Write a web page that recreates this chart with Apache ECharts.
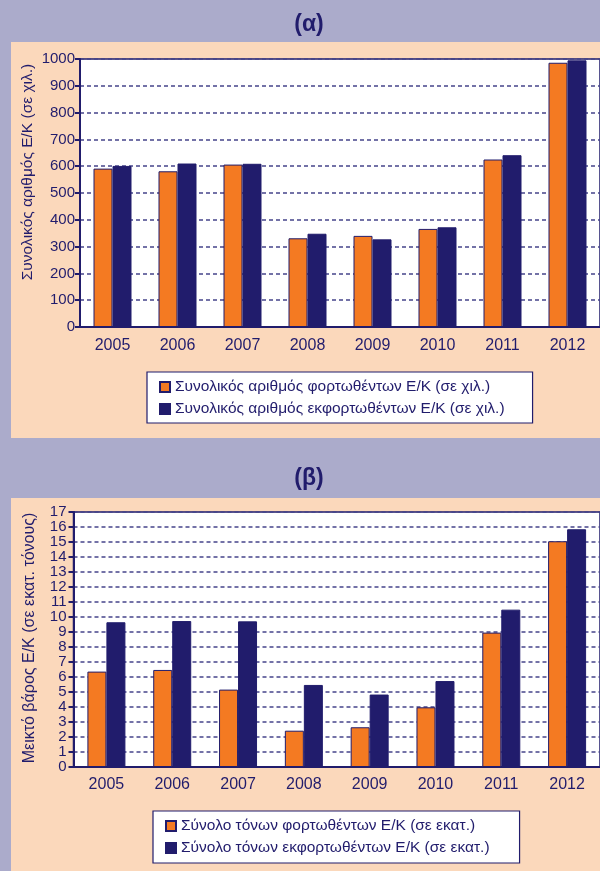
<!DOCTYPE html>
<html lang="el">
  <head>
    <meta charset="UTF-8" />
    <title>Εμπορευματοκιβώτια</title>
    <script src="https://cdn.jsdelivr.net/npm/echarts@6.0.0/dist/echarts.min.js"></script>
    <style>
      html, body { margin: 0; padding: 0; overflow: hidden; }
    </style>
  </head>
  <body>
    <div id="main" style="width: 600px; height: 871px"></div>
    <script type="text/javascript">
      // data
      const years = ["2005", "2006", "2007", "2008", "2009", "2010", "2011", "2012"];
      // (α) number of containers, thousands
      const loadedUnits = [591, 581, 606, 331, 340, 366, 625, 986];
      const unloadedUnits = [601, 610, 609, 348, 327, 372, 641, 995];
      // (β) gross weight, million tonnes
      const loadedTons = [6.36, 6.47, 5.16, 2.42, 2.65, 3.98, 8.96, 15.05];
      const unloadedTons = [9.65, 9.73, 9.71, 5.47, 4.83, 5.73, 10.49, 15.85];

      const yMaxA = 1000, yStepA = 100;
      const yMaxB = 17, yStepB = 1;

      const nameLoadedA = "Συνολικός αριθμός φορτωθέντων Ε/Κ (σε χιλ.)";
      const nameUnloadedA = "Συνολικός αριθμός εκφορτωθέντων Ε/Κ (σε χιλ.)";
      const nameLoadedB = "Σύνολο τόνων φορτωθέντων Ε/Κ (σε εκατ.)";
      const nameUnloadedB = "Σύνολο τόνων εκφορτωθέντων Ε/Κ (σε εκατ.)";

      const navy = "#211c6c";
      const orange = "#f47a22";
      const peach = "#fbd8bb";
      const font = "'Liberation Sans', Arial, sans-serif";

      function makeX(idx, margin) {
        return {
          type: "category",
          gridIndex: idx,
          data: years,
          axisLine: { lineStyle: { color: navy, width: 2 } },
          axisTick: { length: 4, lineStyle: { color: navy, width: 2 } },
          axisLabel: { color: navy, fontSize: 16, fontFamily: font, margin: margin },
        };
      }

      function makeY(idx, max, step, margin, size) {
        return {
          type: "value",
          gridIndex: idx,
          min: 0,
          max: max,
          interval: step,
          axisLine: { show: true, lineStyle: { color: navy, width: 2 } },
          axisTick: { show: true, length: 5, lineStyle: { color: navy, width: 2 } },
          axisLabel: { color: navy, fontSize: size, fontFamily: font, margin: margin, formatter: (v) => String(v) },
          splitLine: { lineStyle: { color: "#46448a", width: 1.6, type: [4, 3] } },
        };
      }

      function makeBar(name, data, color, idx, w) {
        return {
          name: name,
          type: "bar",
          xAxisIndex: idx,
          yAxisIndex: idx,
          data: data,
          barWidth: w,
          barGap: "0%",
          itemStyle: { color: color, borderColor: navy, borderWidth: 1 },
        };
      }

      function makeLegend(names, left, top, pad) {
        return {
          data: names,
          orient: "vertical",
          left: left,
          top: top,
          padding: pad,
          itemGap: 6,
          itemWidth: 10,
          itemHeight: 10,
          icon: "rect",
          backgroundColor: "#fff",
          borderColor: navy,
          borderWidth: 1.2,
          textStyle: { color: navy, fontSize: 15.5, fontFamily: font },
        };
      }

      const options = {
        backgroundColor: "#ababcb",
        animation: false,
        graphic: [
          { type: "rect", z: -10, shape: { x: 11, y: 42, width: 600, height: 396 }, style: { fill: peach } },
          { type: "rect", z: -10, shape: { x: 11, y: 498, width: 600, height: 380 }, style: { fill: peach } },
          { type: "text", x: 309, y: 25, style: { text: "(α)", fill: navy, font: "bold 23px " + font, textAlign: "center", textVerticalAlign: "middle" } },
          { type: "text", x: 309, y: 479, style: { text: "(β)", fill: navy, font: "bold 23px " + font, textAlign: "center", textVerticalAlign: "middle" } },
          { type: "text", x: 28, y: 172, rotation: Math.PI / 2, style: { text: "Συνολικός αριθμός Ε/Κ (σε χιλ.)", fill: navy, font: "15.5px " + font, textAlign: "center", textVerticalAlign: "middle" } },
          { type: "text", x: 30, y: 638, rotation: Math.PI / 2, style: { text: "Μεικτό βάρος Ε/Κ (σε εκατ. τόνους)", fill: navy, font: "16px " + font, textAlign: "center", textVerticalAlign: "middle" } },
        ],
        grid: [
          { left: 80, top: 59, right: -1, height: 268, show: true, backgroundColor: "#fff", borderColor: navy, borderWidth: 1.5 },
          { left: 73.5, top: 512, right: -2, height: 255, show: true, backgroundColor: "#fff", borderColor: navy, borderWidth: 1.5 },
        ],
        xAxis: [makeX(0, 11), makeX(1, 10)],
        yAxis: [makeY(0, yMaxA, yStepA, 5, 15), makeY(1, yMaxB, yStepB, 7, 15)],
        legend: [
          makeLegend([nameLoadedA, nameUnloadedA], 147, 372, [7, 28, 6, 12]),
          makeLegend([nameLoadedB, nameUnloadedB], 153, 811, [7, 30, 7, 12]),
        ],
        series: [
          makeBar(nameLoadedA, loadedUnits, orange, 0, 19),
          makeBar(nameUnloadedA, unloadedUnits, navy, 0, 19),
          makeBar(nameLoadedB, loadedTons, orange, 1, 19),
          makeBar(nameUnloadedB, unloadedTons, navy, 1, 19),
        ],
      };

      let myChart = echarts.init(document.getElementById("main"));
      myChart.setOption(options);
    </script>
  </body>
</html>
